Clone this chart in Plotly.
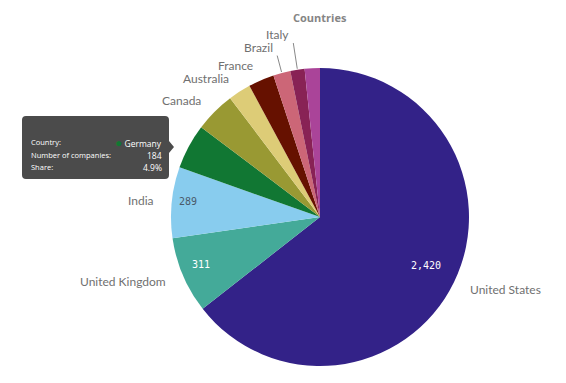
import math
import plotly.graph_objects as go

# ---- data ----
countries = ["United States", "United Kingdom", "India", "Germany", "Canada",
             "Australia", "France", "Brazil", "Italy", "Other"]
companies = [2420, 311, 289, 184, 165, 92, 105, 70, 58, 62]
colors = ["#332288", "#44aa99", "#88ccee", "#117733", "#999933",
          "#ddcc77", "#661100", "#cc6677", "#882255", "#aa4499"]
show_label = [True, True, True, False, True, True, True, True, True, False]
show_value = [True, True, True, False, False, False, False, False, False, False]
value_colors = ["#ffffff", "#ffffff", "#4a5a6a"] + ["#ffffff"] * 7
tooltip_country = "Germany"

# ---- geometry / style ----
W, H = 566, 383
CX, CY, R = 320, 217, 149
label_radius = {"Brazil": 167, "Italy": 176}   # labels pushed out with leader lines
value_radius = [0.79, 0.87, 0.89]
LABEL_FONT = dict(family="Lato, sans-serif", size=12, color="#707070")


def px(x, y):
    return x / W, 1 - y / H


total = sum(companies)
cum = 0
mids = []
for v in companies:
    mids.append((cum + v / 2) / total * 2 * math.pi)
    cum += v

fig = go.Figure(go.Pie(
    labels=countries, values=companies, sort=False, direction="clockwise",
    rotation=0, textinfo="none", hoverinfo="skip", showlegend=False,
    marker=dict(colors=colors, line=dict(width=0)),
    domain=dict(x=[(CX - R) / W, (CX + R) / W],
                y=[1 - (CY + R) / H, 1 - (CY - R) / H]),
))

annotations = []
shapes = []
for i, name in enumerate(countries):
    a = mids[i]
    dx, dy = math.sin(a), -math.cos(a)
    if show_label[i]:
        if name in label_radius:
            rl = label_radius[name]
            x0, y0 = CX + (R + 1) * dx, CY + (R + 1) * dy
            x1, y1 = CX + rl * dx, CY + rl * dy
            shapes.append(dict(type="line", xref="paper", yref="paper",
                               x0=px(x0, y0)[0], y0=px(x0, y0)[1],
                               x1=px(x1, y1)[0], y1=px(x1, y1)[1],
                               line=dict(color="#888888", width=1)))
            lx, ly = px(x1 - 2, y1 + 1)
            annotations.append(dict(x=lx, y=ly, xref="paper", yref="paper",
                                    text=name, showarrow=False, xanchor="right",
                                    yanchor="bottom", font=LABEL_FONT))
        else:
            rl = R + 16
            lx, ly = px(CX + rl * dx, CY + rl * dy)
            annotations.append(dict(x=lx, y=ly, xref="paper", yref="paper",
                                    text=name, showarrow=False,
                                    xanchor="left" if dx > 0 else "right",
                                    yanchor="middle", font=LABEL_FONT))
    if show_value[i]:
        rv = R * value_radius[i]
        vx, vy = px(CX + rv * dx, CY + rv * dy - 3)
        annotations.append(dict(x=vx, y=vy, xref="paper", yref="paper",
                                text=f"{companies[i]:,}", showarrow=False,
                                xanchor="center", yanchor="middle",
                                font=dict(family="DejaVu Sans Mono, monospace",
                                          size=10, color=value_colors[i])))

# title
tx, ty = px(CX, 17)
annotations.append(dict(x=tx, y=ty, xref="paper", yref="paper", text="<b>Countries</b>",
                        showarrow=False, xanchor="center", yanchor="middle",
                        font=dict(family="Open Sans, sans-serif", size=11, color="#858585")))

# tooltip box (rounded rectangle with arrow), built in paper coordinates
gi = countries.index(tooltip_country)
share = companies[gi] / total * 100
bx0, by0, bx1, by1 = 22, 116, 169, 179
pts = [("M", [(bx0 + 4, by0)]), ("L", [(bx1 - 4, by0)]), ("Q", [(bx1, by0), (bx1, by0 + 4)]),
       ("L", [(bx1, 141)]), ("L", [(bx1 + 5, 147)]), ("L", [(bx1, 153)]),
       ("L", [(bx1, by1 - 4)]), ("Q", [(bx1, by1), (bx1 - 4, by1)]),
       ("L", [(bx0 + 4, by1)]), ("Q", [(bx0, by1), (bx0, by1 - 4)]),
       ("L", [(bx0, by0 + 4)]), ("Q", [(bx0, by0), (bx0 + 4, by0)])]
path = ""
for cmd, plist in pts:
    path += cmd + " " + " ".join(f"{px(x, y)[0]:.5f},{px(x, y)[1]:.5f}" for x, y in plist) + " "
path += "Z"
shapes.append(dict(type="path", xref="paper", yref="paper", path=path,
                   fillcolor="#4b4b4b", line=dict(width=0)))

TIP_L = dict(family="Open Sans, sans-serif", size=7.5, color="#ffffff")
TIP_R = dict(family="Open Sans, sans-serif", size=8.5, color="#ffffff")
rows = [("Country:", f"<span style='color:{colors[gi]};font-size:12px'>●</span> {tooltip_country}", 142),
        ("Number of companies:", f"{companies[gi]}", 155),
        ("Share:", f"{share:.1f}%", 167)]
for left, right, yy in rows:
    lx, ly = px(29, yy)
    annotations.append(dict(x=lx, y=ly, xref="paper", yref="paper", text=left,
                            showarrow=False, xanchor="left", yanchor="middle", font=TIP_L))
    rx, ry = px(164, yy)
    annotations.append(dict(x=rx, y=ry, xref="paper", yref="paper", text=right,
                            showarrow=False, xanchor="right", yanchor="middle", font=TIP_R))

fig.update_layout(width=W, height=H, margin=dict(l=0, r=0, t=0, b=0),
                  paper_bgcolor="white", plot_bgcolor="white",
                  annotations=annotations, shapes=shapes)
fig.write_html("out.html", config={"displayModeBar": False},
               post_script="document.body.style.margin='0';")
